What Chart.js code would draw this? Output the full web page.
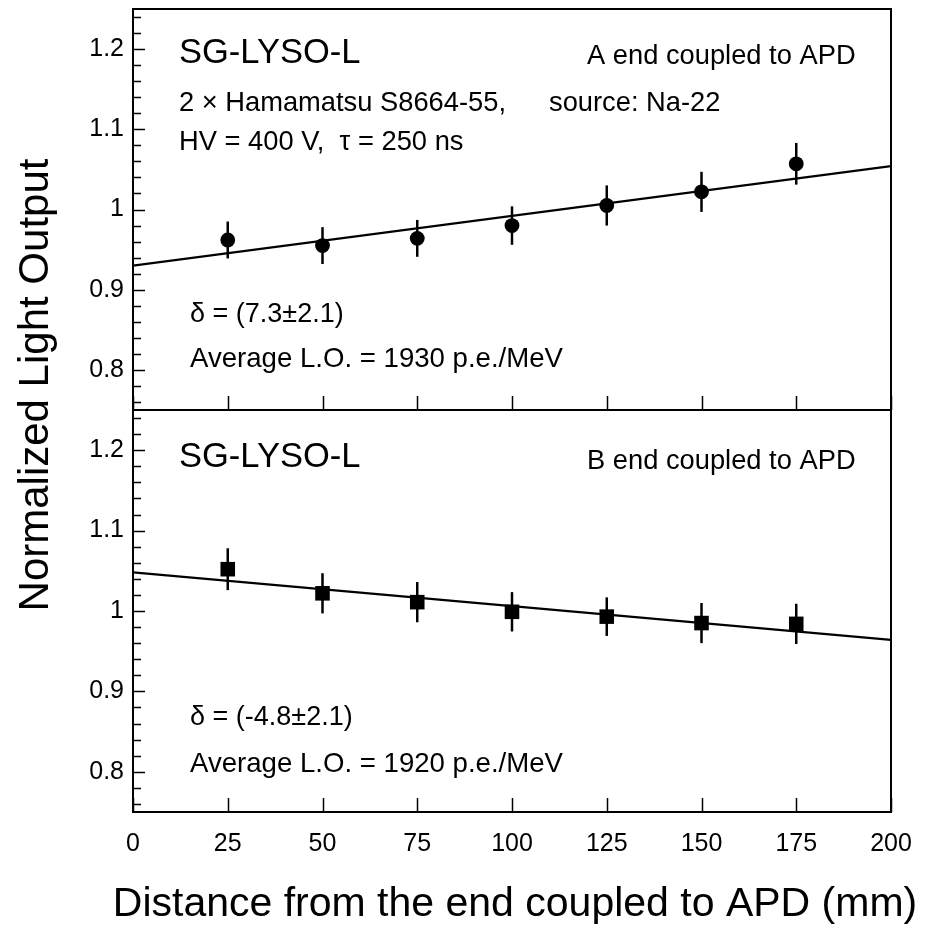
<!DOCTYPE html>
<html><head><meta charset="utf-8">
<script src="https://cdn.jsdelivr.net/npm/chart.js@4/dist/chart.umd.min.js"></script>
<style>
html,body{margin:0;padding:0;background:#fff;}
#wrap{position:relative;width:929px;height:928px;background:#fff;}
canvas{position:absolute;left:0;top:0;}
</style></head><body>
<div id="wrap"><canvas id="cA" width="929" height="928"></canvas><canvas id="cB" width="929" height="928"></canvas></div>
<script>
// ---- data ----
const distances = [25, 50, 75, 100, 125, 150, 175];
const lightOutputA = [0.962, 0.955, 0.964, 0.980, 1.005, 1.022, 1.057];
const errorA = [0.023, 0.023, 0.023, 0.024, 0.025, 0.025, 0.026];
const lightOutputB = [1.052, 1.022, 1.011, 0.999, 0.993, 0.985, 0.984];
const errorB = [0.026, 0.025, 0.025, 0.0245, 0.024, 0.025, 0.025];
const fitX = [0, 200];
const fitA = [0.930, 1.054];
const fitB = [1.048, 0.964];
const xTicks = [0, 25, 50, 75, 100, 125, 150, 175, 200];
const xTickLabels = ['0', '25', '50', '75', '100', '125', '150', '175', '200'];
const yTicks = [0.8, 0.9, 1.0, 1.1, 1.2];
const yTickLabels = ['0.8', '0.9', '1', '1.1', '1.2'];
const xTitle = 'Distance from the end coupled to APD (mm)';
const yTitle = 'Normalized Light Output';
const textsA = [
  {t: 'SG-LYSO-L', x: 179, y: 53, s: 34.5},
  {t: 'A end coupled to APD', x: 587, y: 56, s: 27.3},
  {t: '2 \u00D7 Hamamatsu S8664-55,', x: 179, y: 103, s: 27.3},
  {t: 'source: Na-22', x: 549, y: 103, s: 27.3},
  {t: 'HV = 400 V,  \u03C4 = 250 ns', x: 179, y: 142, s: 27.3},
  {t: '\u03B4 = (7.3\u00B12.1)', x: 190, y: 315, s: 27},
  {t: 'Average L.O. = 1930 p.e./MeV', x: 190, y: 359, s: 27.6}
];
const textsB = [
  {t: 'SG-LYSO-L', x: 179, y: 457, s: 34.5},
  {t: 'B end coupled to APD', x: 587, y: 461, s: 27.3},
  {t: '\u03B4 = (-4.8\u00B12.1)', x: 190, y: 718, s: 27},
  {t: 'Average L.O. = 1920 p.e./MeV', x: 190, y: 764, s: 27.6}
];

const FONT = '"Liberation Sans", Arial, Helvetica, sans-serif';

const framePlugin = {
  id: 'frame',
  beforeDatasetsDraw(chart) {
    const {ctx, scales: {y}} = chart;
    const cfg = chart.options.plugins.frame;
    const meta = chart.getDatasetMeta(0);
    ctx.save();
    ctx.strokeStyle = '#000';
    ctx.lineWidth = 2.5;
    meta.data.forEach((el, i) => {
      const v = cfg.values[i], e = cfg.errors[i];
      ctx.beginPath();
      ctx.moveTo(el.x, y.getPixelForValue(v + e));
      ctx.lineTo(el.x, y.getPixelForValue(v - e));
      ctx.stroke();
    });
    ctx.restore();
  },
  afterDraw(chart) {
    const {ctx, chartArea: a, scales: {x, y}} = chart;
    const cfg = chart.options.plugins.frame;
    ctx.save();
    ctx.strokeStyle = '#000';
    ctx.lineWidth = 2;
    ctx.strokeRect(a.left, a.top, a.right - a.left, a.bottom - a.top);
    ctx.lineWidth = 1.5;
    // y ticks (inside), major at 0.1, minor at 0.02
    for (let k = 38; k <= 62; k++) {
      const py = Math.round(y.getPixelForValue(k / 50)) + 0.5;
      const len = (k % 5 === 0) ? 12 : 8;
      ctx.beginPath();
      ctx.moveTo(a.left, py);
      ctx.lineTo(a.left + len, py);
      ctx.stroke();
    }
    // x ticks (inside, from bottom)
    xTicks.forEach(v => {
      const px = Math.round(x.getPixelForValue(v)) + 0.5;
      ctx.beginPath();
      ctx.moveTo(px, a.bottom);
      ctx.lineTo(px, a.bottom - 14);
      ctx.stroke();
    });
    // annotation texts
    ctx.fillStyle = '#000';
    ctx.textAlign = 'left';
    ctx.textBaseline = 'middle';
    cfg.texts.forEach(t => {
      ctx.font = t.s + 'px ' + FONT;
      ctx.fillText(t.t, t.x, t.y);
    });
    if (cfg.titles) {
      ctx.save();
      ctx.translate(36, 385);
      ctx.rotate(-Math.PI / 2);
      ctx.textAlign = 'center';
      ctx.font = '42px ' + FONT;
      ctx.fillText(yTitle, 0, 0);
      ctx.restore();
      ctx.textAlign = 'center';
      ctx.font = '41px ' + FONT;
      ctx.fillText(xTitle, 515, 905);
    }
    ctx.restore();
  }
};

function makePanel(id, values, errors, fit, style, radius, texts, isBottom) {
  return new Chart(document.getElementById(id), {
    type: 'scatter',
    data: {
      datasets: [
        {
          type: 'scatter',
          data: distances.map((d, i) => ({x: d, y: values[i]})),
          pointStyle: style,
          pointRadius: radius,
          pointHoverRadius: radius,
          backgroundColor: '#000',
          borderColor: '#000',
          borderWidth: 0
        },
        {
          type: 'line',
          data: fitX.map((d, i) => ({x: d, y: fit[i]})),
          borderColor: '#000',
          borderWidth: 2.2,
          pointRadius: 0,
          fill: false,
          tension: 0
        }
      ]
    },
    options: {
      responsive: false,
      animation: false,
      events: [],
      layout: {padding: isBottom ? {left: 0, top: 410, right: 38, bottom: 0} : {left: 0, top: 9, right: 38, bottom: 518}},
      plugins: {
        legend: {display: false},
        tooltip: {enabled: false},
        frame: {values, errors, texts, titles: isBottom}
      },
      scales: {
        x: {
          type: 'linear', min: 0, max: 200, position: 'bottom',
          grid: {display: false, drawTicks: false},
          border: {display: false},
          afterBuildTicks: s => { s.ticks = xTicks.map(v => ({value: v})); },
          ticks: {
            display: isBottom, autoSkip: false, maxRotation: 0, color: '#000', padding: 17,
            font: {family: FONT, size: 25},
            callback: v => xTickLabels[xTicks.indexOf(v)]
          },
          afterFit: s => { s.height = isBottom ? 116 : 0; s.paddingLeft = 0; s.paddingRight = 0; }
        },
        y: {
          type: 'linear', min: 0.75, max: 1.25,
          grid: {display: false, drawTicks: false},
          border: {display: false},
          afterBuildTicks: s => { s.ticks = yTicks.map(v => ({value: v})); },
          ticks: {
            color: '#000', padding: 9, autoSkip: false,
            font: {family: FONT, size: 25},
            callback: v => yTickLabels[yTicks.findIndex(t => Math.abs(t - v) < 1e-9)]
          },
          afterFit: s => { s.width = 133; s.paddingTop = 0; s.paddingBottom = 0; }
        }
      }
    },
    plugins: [framePlugin]
  });
}

makePanel('cA', lightOutputA, errorA, fitA, 'circle', 7.4, textsA, false);
makePanel('cB', lightOutputB, errorB, fitB, 'rect', 10.3, textsB, true);
</script>
</body></html>
